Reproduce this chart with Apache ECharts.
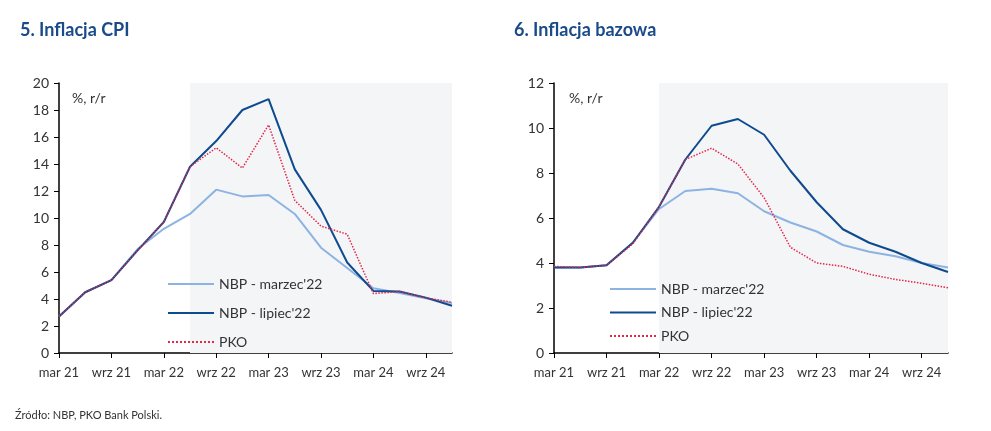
<!DOCTYPE html>
<html><head><meta charset="utf-8">
<script src="https://cdn.jsdelivr.net/npm/echarts@6/dist/echarts.min.js"></script>
<style>html,body{margin:0;padding:0;background:#fff}#c{width:991px;height:431px}</style>
</head><body><div id="c"></div>
<script>
const categories = ['mar 21','cze 21','wrz 21','gru 21','mar 22','cze 22','wrz 22','gru 22','mar 23','cze 23','wrz 23','gru 23','mar 24','cze 24','wrz 24','gru 24'];
// 5. Inflacja CPI
const cpiNbpMar = [2.7,4.5,5.4,7.7,9.2,10.3,12.1,11.6,11.7,10.3,7.8,6.3,4.8,4.45,4.05,3.7];
const cpiNbpLip = [2.7,4.5,5.4,7.6,9.7,13.8,15.7,18.0,18.8,13.6,10.6,6.7,4.6,4.55,4.1,3.5];
const cpiPko    = [2.7,4.5,5.4,7.6,9.7,13.8,15.2,13.7,16.9,11.3,9.4,8.8,4.4,4.55,4.1,3.75];
// 6. Inflacja bazowa
const coreNbpMar = [3.8,3.8,3.9,4.9,6.4,7.2,7.3,7.1,6.3,5.8,5.4,4.8,4.5,4.3,4.0,3.8];
const coreNbpLip = [3.8,3.8,3.9,4.9,6.5,8.6,10.1,10.4,9.7,8.1,6.7,5.5,4.9,4.5,4.0,3.6];
const corePko    = [3.85,3.8,3.9,4.85,6.5,8.6,9.1,8.4,6.9,4.7,4.0,3.85,3.5,3.27,3.1,2.9];
const names = ["NBP - marzec'22","NBP - lipiec'22","PKO"];
const titles = ['5. Inflacja CPI','6. Inflacja bazowa'];
const unitLabel = '%, r/r';
const source = 'Źródło: NBP, PKO Bank Polski.';

const FONT = 'Lato';
const cLight = '#8db3e2', cDark = '#0e4a8e', cRed = '#e0284a';
const chart = echarts.init(document.getElementById('c'));

function xAxis(gi){
  return {type:'category', gridIndex:gi, data:categories, boundaryGap:false,
    axisLine:{lineStyle:{color:'#000',width:1.5}},
    axisTick:{interval:1,length:5,lineStyle:{color:'#000',width:1}},
    axisLabel:{interval:1,color:'#333',fontFamily:FONT,fontSize:13,margin:13}};
}
function yAxis(gi,max){
  return {type:'value', gridIndex:gi, min:0, max:max, interval:2,
    axisLine:{show:true,lineStyle:{color:'#000',width:1.5}},
    axisTick:{show:true,length:5,lineStyle:{color:'#000'}},
    splitLine:{show:false},
    axisLabel:{color:'#333',fontFamily:FONT,fontSize:14,margin:10}};
}
function mk(gi, name, data, color, width, type, shadeStart){
  const s = {type:'line', name:name, xAxisIndex:gi, yAxisIndex:gi, data:data, symbol:'none',
    lineStyle:{color:color,width:width,type:type}, itemStyle:{color:color}};
  if(shadeStart){
    s.markArea = {silent:true, itemStyle:{color:'#f4f5f7'}, data:[[{xAxis:shadeStart},{xAxis:categories[categories.length-1]}]]};
    s.z = 1;
  }
  return s;
}
const legendCommon = {orient:'vertical',itemWidth:46,itemHeight:14,
  itemStyle:{opacity:0},
  textStyle:{color:'#333',fontSize:14,fontFamily:FONT}};
chart.setOption({
  animation:false,
  textStyle:{fontFamily:FONT},
  title:[
    {text:titles[0],left:15,top:16,textStyle:{color:'#1a4a8a',fontSize:18,fontWeight:'bold',fontFamily:FONT}},
    {text:titles[1],left:509,top:16,textStyle:{color:'#1a4a8a',fontSize:18,fontWeight:'bold',fontFamily:FONT}},
    {text:source,left:10,top:405,textStyle:{color:'#333',fontSize:11,fontWeight:'normal',fontFamily:FONT}}
  ],
  graphic:[
    {type:'text',left:72,top:91,z:10,style:{text:unitLabel,fill:'#333',font:'14px '+FONT}},
    {type:'text',left:569,top:91,z:10,style:{text:unitLabel,fill:'#333',font:'14px '+FONT}}
  ],
  grid:[
    {left:59,top:83,width:393,height:270},
    {left:554,top:83,width:394,height:270}
  ],
  xAxis:[xAxis(0),xAxis(1)],
  yAxis:[yAxis(0,20),yAxis(1,12)],
  legend:[
    Object.assign({data:names,left:162,top:272,itemGap:15}, legendCommon),
    Object.assign({data:names,left:604,top:277,itemGap:9.5}, legendCommon)
  ],
  series:[
    mk(0,names[0],cpiNbpMar,cLight,2,'solid','cze 22'),
    mk(0,names[1],cpiNbpLip,cDark,2,'solid'),
    mk(0,names[2],cpiPko,cRed,1.5,'dotted'),
    mk(1,names[0],coreNbpMar,cLight,2,'solid','mar 22'),
    mk(1,names[1],coreNbpLip,cDark,2,'solid'),
    mk(1,names[2],corePko,cRed,1.5,'dotted')
  ]
});
</script></body></html>
